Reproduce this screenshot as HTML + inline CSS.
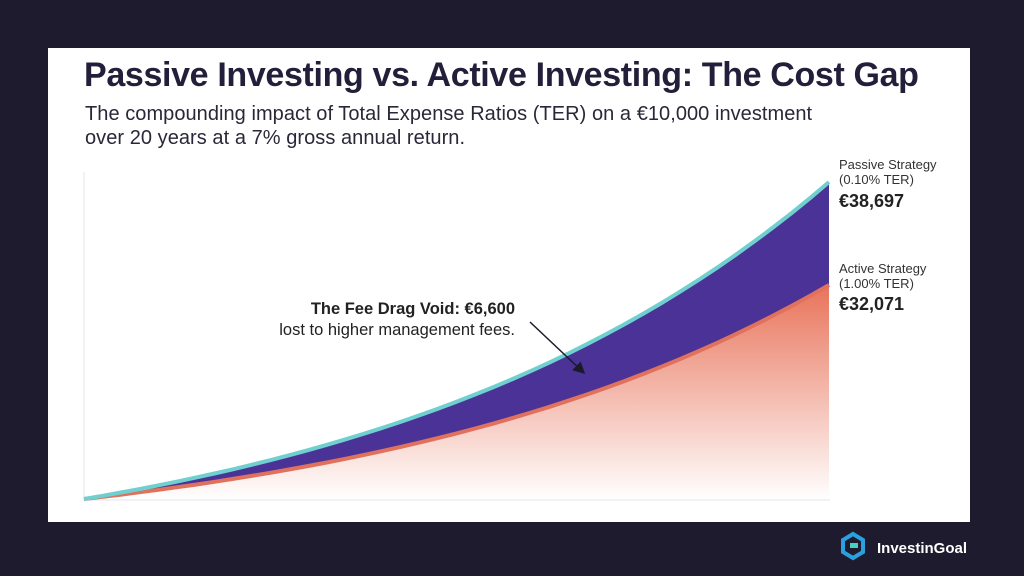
<!DOCTYPE html>
<html><head><meta charset="utf-8"><style>
body{margin:0;width:1024px;height:576px;background:#1f1b2f;font-family:"Liberation Sans",sans-serif;overflow:hidden;position:relative}
.panel{position:absolute;left:48px;top:48px;width:922px;height:474px;background:#fff}
h1{position:absolute;left:84px;top:56px;margin:0;font-size:34px;font-weight:bold;color:#231f3a;letter-spacing:-0.35px;white-space:nowrap}
.sub{position:absolute;left:85px;top:102px;font-size:20px;color:#2a2838;line-height:24px;white-space:nowrap;letter-spacing:0.05px}
.lab{position:absolute;left:839px;font-size:13px;color:#333;line-height:15px}
.val{position:absolute;left:839px;font-size:18px;font-weight:bold;color:#222}
.ann{position:absolute;left:260px;top:299px;font-size:16.5px;color:#222;line-height:21px;text-align:right;width:255px}
.logo{position:absolute;left:877px;top:540px;color:#fff;font-weight:bold;font-size:15px}
</style></head><body>
<div class="panel"></div>
<h1>Passive Investing vs. Active Investing: The Cost Gap</h1>
<div class="sub">The compounding impact of Total Expense Ratios (TER) on a €10,000 investment<br>over 20 years at a 7% gross annual return.</div>
<svg width="1024" height="576" style="position:absolute;left:0;top:0">
<defs>
<linearGradient id="g" x1="0" y1="0" x2="0" y2="1">
<stop offset="0" stop-color="#e8735a"/><stop offset="1" stop-color="#e8735a" stop-opacity="0"/></linearGradient>
<marker id="ar" markerWidth="8" markerHeight="8" refX="6" refY="4" orient="auto"><path d="M0,0L8,4L0,8z" fill="#1a1a2a"/></marker>
</defs>
<line x1="84" y1="172" x2="84" y2="500" stroke="#e4e4e8"/>
<line x1="84" y1="500" x2="830" y2="500" stroke="#e4e4e8"/>
<path id="act" fill="url(#g)"/>
<path id="gap" fill="#4a3296"/>
<path id="al" fill="none" stroke="#e0715d" stroke-width="4"/>
<path id="pl" fill="none" stroke="#6fd0cf" stroke-width="4"/>
<line x1="530" y1="322" x2="583" y2="372" stroke="#1a1a2a" stroke-width="1.5" marker-end="url(#ar)"/>
<g transform="translate(843,534)">
<path d="M10,0L20,6L20,18L10,24L0,18L0,6z" fill="none" stroke="#2aa0e0" stroke-width="4"/>
<rect x="7" y="9" width="8" height="5" fill="#45d0c0"/>
</g>
</svg>
<script>
function pts(r,H){var a=[];for(var i=0;i<=40;i++){var t=i/2;var x=84+745*t/20;var y=499-H*(Math.pow(r,t)-1)/(Math.pow(r,20)-1);a.push([x.toFixed(1),y.toFixed(1)]);}return a;}
var p=pts(1.085,317),a=pts(1.085,214);
function line(q){return "M"+q.map(function(v){return v.join(",")}).join("L");}
document.getElementById('pl').setAttribute('d',line(p));
document.getElementById('al').setAttribute('d',line(a));
document.getElementById('act').setAttribute('d',line(a)+"L829,500L84,500Z");
document.getElementById('gap').setAttribute('d',line(p)+"L"+a.slice().reverse().map(function(v){return v.join(",")}).join("L")+"Z");
</script>
<div class="lab" style="top:157px">Passive Strategy<br>(0.10% TER)</div>
<div class="val" style="top:191px">€38,697</div>
<div class="lab" style="top:261px">Active Strategy<br>(1.00% TER)</div>
<div class="val" style="top:294px">€32,071</div>
<div class="ann"><b>The Fee Drag Void: €6,600</b><br>lost to higher management fees.</div>
<div class="logo">InvestinGoal</div>
</body></html>
